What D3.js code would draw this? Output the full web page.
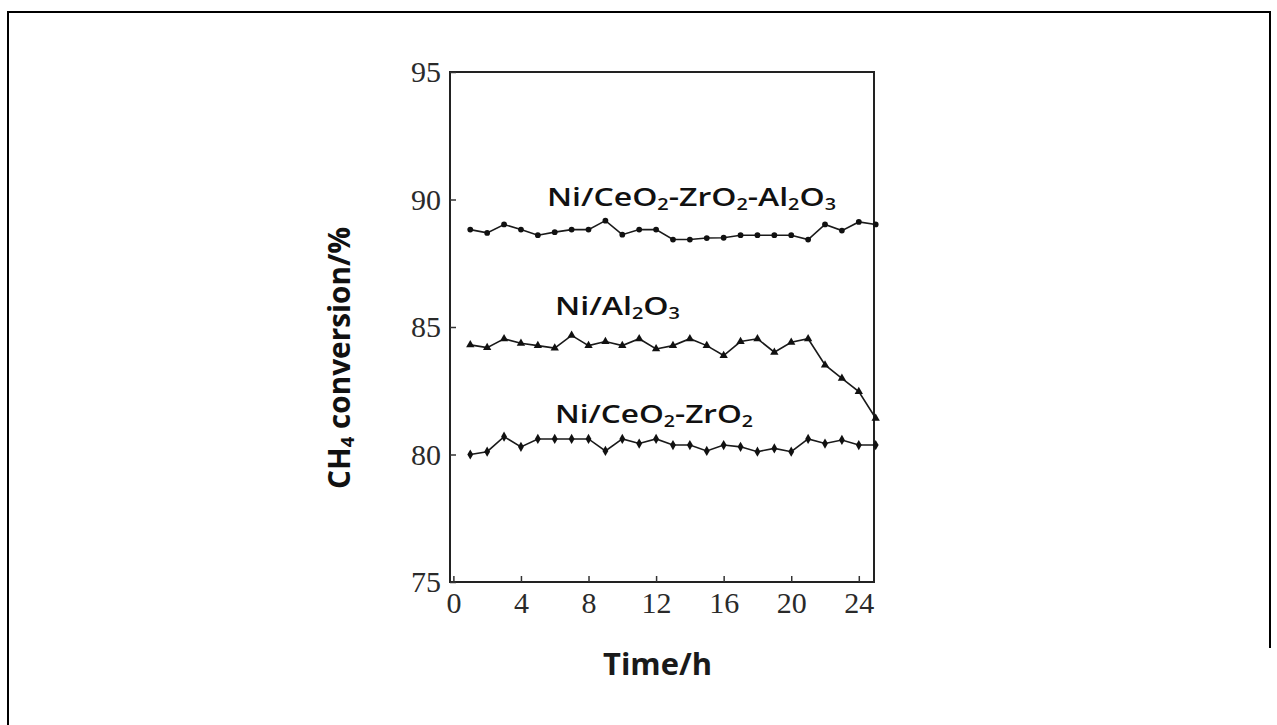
<!DOCTYPE html>
<html>
<head>
<meta charset="utf-8">
<script src="https://cdn.jsdelivr.net/npm/d3@7"></script>
<style>
  html, body { margin: 0; padding: 0; background: #fff; }
  svg { display: block; }
</style>
</head>
<body>
<svg id="chart" width="1277" height="725"></svg>
<script>
// Time on stream (h)
const hours = [1, 2, 3, 4, 5, 6, 7, 8, 9, 10, 11, 12, 13, 14, 15, 16, 17, 18, 19, 20, 21, 22, 23, 24, 25];

// CH4 conversion (%) for each catalyst
const ceZrAl = [88.82, 88.69, 89.02, 88.82, 88.60, 88.72, 88.82, 88.82, 89.17, 88.62, 88.82, 88.82, 88.43,
                88.43, 88.49, 88.50, 88.60, 88.60, 88.60, 88.60, 88.43, 89.02, 88.78, 89.12, 89.02];
const niAl = [84.30, 84.19, 84.54, 84.36, 84.27, 84.17, 84.67, 84.27, 84.43, 84.27, 84.54, 84.14, 84.27,
              84.54, 84.27, 83.88, 84.43, 84.54, 84.01, 84.40, 84.54, 83.51, 82.99, 82.47, 81.42];
const ceZr = [80.00, 80.11, 80.70, 80.30, 80.61, 80.61, 80.61, 80.61, 80.14, 80.61, 80.43, 80.61, 80.37,
              80.37, 80.14, 80.37, 80.30, 80.11, 80.24, 80.11, 80.61, 80.43, 80.57, 80.37, 80.37];

const xTicks = [0, 4, 8, 12, 16, 20, 24];
const yTicks = [75, 80, 85, 90, 95];

// Series labels as [text, isSubscript] runs
const labelCeZrAl = [["Ni/CeO", false], ["2", true], ["-ZrO", false], ["2", true], ["-Al", false], ["2", true], ["O", false], ["3", true]];
const labelNiAl = [["Ni/Al", false], ["2", true], ["O", false], ["3", true]];
const labelCeZr = [["Ni/CeO", false], ["2", true], ["-ZrO", false], ["2", true]];
const yTitle = [["CH", false], ["4", true], [" conversion/%", false]];
const xTitle = "Time/h";

const svg = d3.select("#chart");

// outer frame
svg.append("path")
  .attr("d", "M8,725 L8,12 L1270,12 L1270,648")
  .attr("fill", "none").attr("stroke", "#000").attr("stroke-width", 2);

const plotL = 450, plotR = 874, plotT = 72, plotB = 582;
const x = d3.scaleLinear().domain([-0.2, 24.9]).range([plotL, plotR]);
const y = d3.scaleLinear().domain([75, 95]).range([plotB, plotT]);

const serif = "'Liberation Serif', 'Times New Roman', serif";
const sans = "'Open Sans', 'Noto Sans', sans-serif";

// plot box
svg.append("rect")
  .attr("x", plotL).attr("y", plotT)
  .attr("width", plotR - plotL).attr("height", plotB - plotT)
  .attr("fill", "none").attr("stroke", "#222").attr("stroke-width", 2);

// axes with inward ticks
const xAxis = d3.axisBottom(x).tickValues(xTicks).tickSizeInner(-6).tickSizeOuter(0).tickPadding(10);
const gx = svg.append("g").attr("transform", `translate(0,${plotB})`).call(xAxis);
gx.select(".domain").remove();
gx.selectAll(".tick line").attr("stroke", "#333").attr("stroke-width", 1.5);
gx.selectAll(".tick text")
  .attr("font-family", serif).attr("font-size", 30).attr("fill", "#2a2a2a");

const yAxis = d3.axisLeft(y).tickValues(yTicks).tickSizeInner(-6).tickSizeOuter(0).tickPadding(9);
const gy = svg.append("g").attr("transform", `translate(${plotL},0)`).call(yAxis);
gy.select(".domain").remove();
gy.selectAll(".tick line").attr("stroke", "#333").attr("stroke-width", 1.5);
gy.selectAll(".tick text")
  .attr("font-family", serif).attr("font-size", 30).attr("fill", "#2a2a2a");

// series
const line = d3.line().x(d => x(d[0])).y(d => y(d[1]));
function drawSeries(values, marker) {
  const pts = hours.map((h, i) => [h, values[i]]);
  svg.append("path").datum(pts).attr("d", line)
    .attr("fill", "none").attr("stroke", "#1a1a1a").attr("stroke-width", 1.6);
  svg.append("g").selectAll("path").data(pts).join("path")
    .attr("transform", d => `translate(${x(d[0])},${y(d[1])})`)
    .attr("d", d3.symbol().type(marker.type).size(marker.size))
    .attr("fill", "#111");
}
drawSeries(ceZrAl, { type: d3.symbolCircle, size: 26 });
drawSeries(niAl, { type: d3.symbolTriangle, size: 30 });
drawSeries(ceZr, { type: d3.symbolDiamond, size: 30 });

// rich text with subscripts, stretched to a given width
function richText(g, runs, size, width) {
  const t = g.append("text").attr("font-family", sans).attr("font-size", size).attr("fill", "#111");
  runs.forEach(([s, sub]) => {
    const span = t.append("tspan").text(s);
    if (sub) span.attr("font-size", size * 0.62).attr("baseline-shift", "-22%");
  });
  if (width) t.attr("textLength", width).attr("lengthAdjust", "spacingAndGlyphs");
  return t;
}

richText(svg, labelCeZrAl, 26, 289).attr("x", 547).attr("y", 206).attr("font-weight", 600);
richText(svg, labelNiAl, 26, 125).attr("x", 555).attr("y", 315).attr("font-weight", 600);
richText(svg, labelCeZr, 26, 198).attr("x", 555).attr("y", 423).attr("font-weight", 600);

// axis titles
svg.append("text").attr("x", 603).attr("y", 675)
  .attr("font-family", sans).attr("font-weight", "bold").attr("font-size", 30).attr("fill", "#1a1a1a")
  .attr("textLength", 109).attr("lengthAdjust", "spacingAndGlyphs")
  .text(xTitle);

richText(svg.append("g").attr("transform", "translate(350,489) rotate(-90)"), yTitle, 30, 262)
  .attr("font-weight", "bold");
</script>
</body>
</html>
